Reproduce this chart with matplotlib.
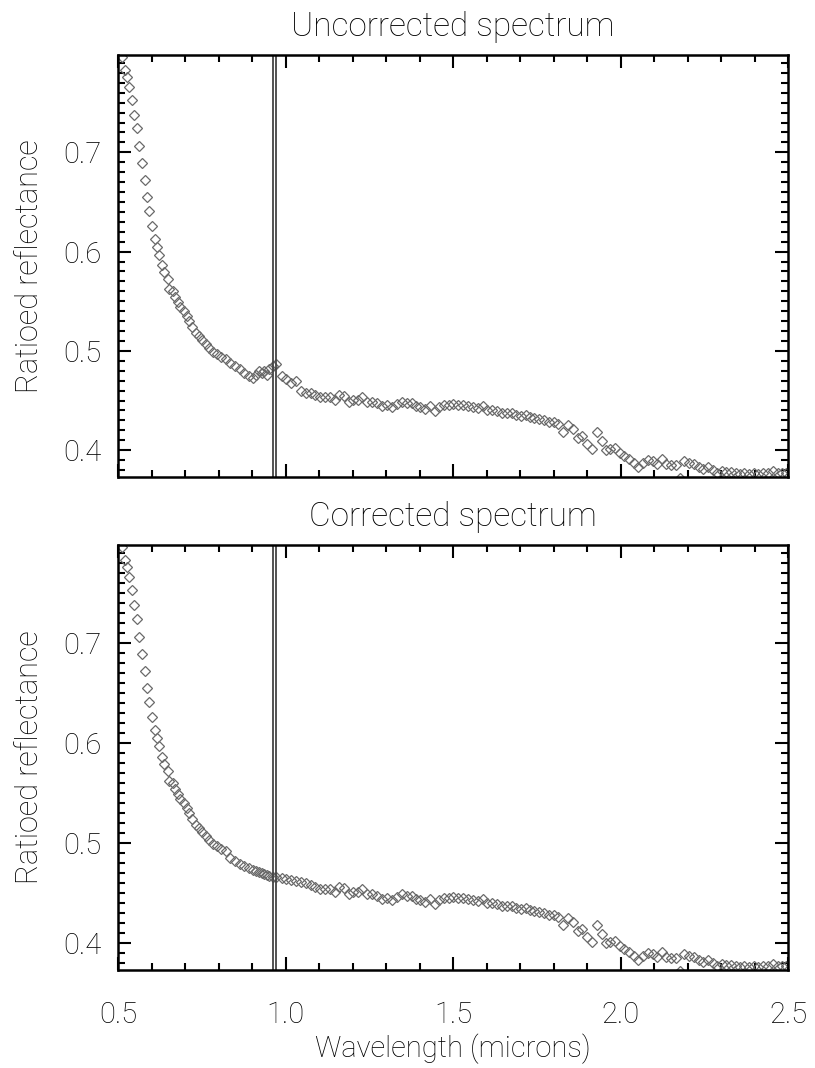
import numpy as np
import matplotlib
matplotlib.use("Agg")
import matplotlib.pyplot as plt
from matplotlib.ticker import MultipleLocator, FormatStrFormatter

plt.rcParams['font.family'] = ['Roboto', 'DejaVu Sans']
plt.rcParams['font.weight'] = 'light'
plt.rcParams['axes.titleweight'] = 'light'
plt.rcParams['axes.labelweight'] = 'light'

# wavelength (microns)
wave = [0.511, 0.521, 0.528, 0.533, 0.543, 0.549, 0.558, 0.564, 0.573, 0.580,
        0.588, 0.593, 0.602, 0.609, 0.617, 0.622, 0.631, 0.637, 0.648, 0.653,
        0.663, 0.670, 0.678, 0.685, 0.697, 0.705, 0.713, 0.722, 0.732, 0.743,
        0.752, 0.762, 0.772, 0.783, 0.795, 0.807, 0.821, 0.834, 0.849, 0.864,
        0.877, 0.890, 0.902, 0.912, 0.921, 0.929, 0.936, 0.944, 0.952, 0.962,
        0.971, 0.989, 1.001, 1.016, 1.030, 1.045, 1.060, 1.075, 1.088, 1.103,
        1.118, 1.133, 1.148, 1.160, 1.175, 1.189, 1.202, 1.216, 1.229, 1.242,
        1.257, 1.272, 1.287, 1.302, 1.317, 1.332, 1.347, 1.362, 1.377, 1.389,
        1.401, 1.416, 1.431, 1.446, 1.459, 1.473, 1.488, 1.501, 1.516, 1.531,
        1.546, 1.561, 1.576, 1.589, 1.602, 1.616, 1.630, 1.645, 1.660, 1.675,
        1.688, 1.703, 1.717, 1.730, 1.743, 1.758, 1.772, 1.787, 1.801, 1.814,
        1.829, 1.844, 1.857, 1.874, 1.886, 1.899, 1.915, 1.929, 1.944, 1.957,
        1.969, 1.984, 1.999, 2.011, 2.026, 2.040, 2.053, 2.068, 2.081, 2.096,
        2.108, 2.123, 2.136, 2.150, 2.165, 2.178, 2.190, 2.205, 2.219, 2.234,
        2.247, 2.262, 2.275, 2.287, 2.302, 2.315, 2.329, 2.344, 2.357, 2.370,
        2.384, 2.399, 2.411, 2.426, 2.441, 2.456, 2.469, 2.483, 2.494]

# ratioed reflectance, uncorrected
refl_raw = [0.796, 0.783, 0.776, 0.766, 0.753, 0.738, 0.724, 0.706, 0.689, 0.672,
            0.655, 0.641, 0.626, 0.613, 0.605, 0.597, 0.586, 0.579, 0.572, 0.562,
            0.560, 0.554, 0.549, 0.544, 0.540, 0.535, 0.530, 0.524, 0.518, 0.515,
            0.511, 0.507, 0.503, 0.499, 0.497, 0.494, 0.492, 0.488, 0.485, 0.482,
            0.478, 0.475, 0.473, 0.476, 0.480, 0.478, 0.480, 0.476, 0.482, 0.485,
            0.487, 0.475, 0.472, 0.468, 0.470, 0.460, 0.458, 0.458, 0.456, 0.454,
            0.454, 0.454, 0.451, 0.456, 0.455, 0.449, 0.451, 0.451, 0.454, 0.449,
            0.449, 0.447, 0.444, 0.445, 0.443, 0.446, 0.449, 0.447, 0.447, 0.444,
            0.443, 0.441, 0.444, 0.439, 0.443, 0.445, 0.445, 0.446, 0.445, 0.445,
            0.444, 0.443, 0.442, 0.444, 0.440, 0.440, 0.439, 0.437, 0.437, 0.437,
            0.435, 0.434, 0.435, 0.433, 0.432, 0.431, 0.430, 0.428, 0.428, 0.426,
            0.418, 0.425, 0.421, 0.412, 0.414, 0.406, 0.401, 0.418, 0.409, 0.400,
            0.401, 0.402, 0.397, 0.394, 0.391, 0.387, 0.383, 0.387, 0.390, 0.389,
            0.386, 0.391, 0.386, 0.385, 0.385, 0.372, 0.389, 0.387, 0.386, 0.383,
            0.381, 0.383, 0.380, 0.377, 0.379, 0.378, 0.378, 0.377, 0.376, 0.377,
            0.376, 0.377, 0.376, 0.377, 0.377, 0.379, 0.377, 0.377, 0.377]

# corrected values over the 0.83-1.06 micron stretch (index 37..56), rest unchanged
fix_start = 37
refl_fix = [0.485, 0.482, 0.479, 0.477, 0.475, 0.473, 0.472, 0.471, 0.470, 0.469,
            0.468, 0.467, 0.466, 0.466, 0.465, 0.464, 0.463, 0.462, 0.461, 0.460]

band = [0.962, 0.972]

refl_cor = list(refl_raw)
refl_cor[fix_start:fix_start + len(refl_fix)] = refl_fix

fig = plt.figure(figsize=(8.15, 10.68), dpi=100)
ax1 = fig.add_axes([0.1448, 0.5534, 0.8221, 0.3951])
ax2 = fig.add_axes([0.1448, 0.0918, 0.8221, 0.3979])

fs = 21
for ax, y, title in [(ax1, refl_raw, 'Uncorrected spectrum'),
                     (ax2, refl_cor, 'Corrected spectrum')]:
    ax.plot(wave, y, ls='none', marker='D', ms=5.5, mfc='none', mec='#6a6a6a', mew=0.9)
    for b in band:
        ax.axvline(b, color='#444444', lw=1.3)
    ax.set_xlim(0.5, 2.5)
    ax.set_ylim(0.373, 0.798)
    ax.xaxis.set_major_locator(MultipleLocator(0.5))
    ax.xaxis.set_minor_locator(MultipleLocator(0.1))
    ax.yaxis.set_major_locator(MultipleLocator(0.1))
    ax.yaxis.set_minor_locator(MultipleLocator(0.01))
    ax.yaxis.set_major_formatter(FormatStrFormatter('%.1f'))
    ax.xaxis.set_major_formatter(FormatStrFormatter('%.1f'))
    ax.tick_params(which='both', direction='in', top=True, right=True, width=1.5,
                   labelsize=fs, colors='black')
    ax.tick_params(which='major', length=9.5, pad=12)
    ax.tick_params(which='minor', length=5)
    for s in ax.spines.values():
        s.set_linewidth(1.8)
    ax.set_title(title, fontsize=fs + 3, pad=14, fontweight='light')
    ax.set_ylabel('Ratioed reflectance', fontsize=fs + 1, labelpad=14, fontweight='light')

ax1.tick_params(labelbottom=False)
ax2.tick_params(axis='x', which='major', pad=22)
ax2.set_xlabel('Wavelength (microns)', fontsize=fs, labelpad=4, fontweight='light')

fig.savefig('out.png', dpi=100)
